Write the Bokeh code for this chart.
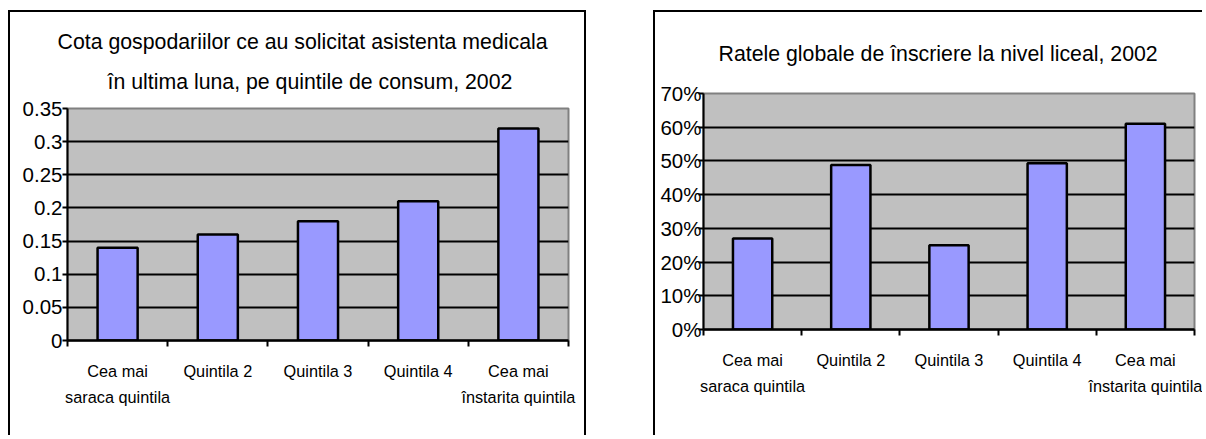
from bokeh.plotting import figure
from bokeh.models import ColumnDataSource, FixedTicker, Title, Range1d, LinearAxis
from bokeh.layouts import row, column
from bokeh.embed import file_html
from bokeh.resources import INLINE

# ---- data ----
categories = ["Cea mai\nsaraca quintila", "Quintila 2", "Quintila 3", "Quintila 4",
              "Cea mai\nînstarita quintila"]

health_values = [0.14, 0.16, 0.18, 0.21, 0.32]
health_ticks = [0, 0.05, 0.1, 0.15, 0.2, 0.25, 0.3, 0.35]
health_tick_labels = ["0", "0.05", "0.1", "0.15", "0.2", "0.25", "0.3", "0.35"]
health_title = ["Cota gospodariilor ce au solicitat asistenta medicala",
                "în ultima luna, pe quintile de consum, 2002"]

enrol_values = [0.27, 0.488, 0.25, 0.493, 0.61]
enrol_ticks = [0, 0.1, 0.2, 0.3, 0.4, 0.5, 0.6, 0.7]
enrol_tick_labels = ["0%", "10%", "20%", "30%", "40%", "50%", "60%", "70%"]
enrol_title = ["Ratele globale de înscriere la nivel liceal, 2002"]

FONT = "Liberation Sans"


def make_chart(values, ticks, tick_labels, titles, width, height, borders,
               title_layout, ylabel_standoff, box_css):
    n = len(categories)
    ymax = ticks[-1]
    centers = [i + 0.5 for i in range(n)]
    p = figure(width=width, height=height, output_backend="svg", toolbar_location=None,
               x_range=Range1d(0, n), y_range=Range1d(0, ymax),
               min_border_left=borders[0], min_border_right=borders[1],
               min_border_top=borders[2], min_border_bottom=borders[3],
               background_fill_color="#C0C0C0", border_fill_color="white",
               outline_line_color="#808080", outline_line_width=2)
    p.styles = box_css

    src = ColumnDataSource(dict(x=centers, top=values))
    p.vbar(x="x", top="top", width=0.4, source=src, fill_color="#9999FF",
           line_color="black", line_width=2.5)

    # grid
    p.xgrid.visible = False
    p.ygrid.ticker = FixedTicker(ticks=ticks[1:-1])
    p.ygrid.grid_line_color = "black"
    p.ygrid.grid_line_width = 2
    p.ygrid.level = "underlay"

    # y axis
    ya = p.yaxis[0]
    ya.ticker = FixedTicker(ticks=ticks)
    ya.major_label_overrides = {t: l for t, l in zip(ticks, tick_labels)}
    ya.axis_line_color = "black"
    ya.axis_line_width = 2
    ya.major_tick_line_color = "black"
    ya.major_tick_line_width = 2
    ya.major_tick_out = 5
    ya.major_tick_in = 0
    ya.minor_tick_line_color = None
    ya.major_label_standoff = ylabel_standoff
    ya.major_label_text_font = FONT
    ya.major_label_text_font_size = "20.5px"
    ya.major_label_text_color = "black"

    # x axis (ticks between categories)
    xa = p.xaxis[0]
    xa.ticker = FixedTicker(ticks=list(range(n + 1)))
    xa.major_label_overrides = {i: "" for i in range(n + 1)}
    xa.major_label_text_font_size = "0px"
    xa.major_label_standoff = 0
    xa.axis_line_color = "black"
    xa.axis_line_width = 2.5
    xa.major_tick_line_color = "black"
    xa.major_tick_line_width = 2
    xa.major_tick_out = 6
    xa.major_tick_in = 0
    xa.minor_tick_line_color = None

    # category labels (second axis, ticks at category centres)
    ca = LinearAxis(ticker=FixedTicker(ticks=centers),
                    major_label_overrides={c: s for c, s in zip(centers, categories)})
    ca.axis_line_color = None
    ca.major_tick_line_color = None
    ca.minor_tick_line_color = None
    ca.major_tick_out = 0
    ca.major_tick_in = 0
    ca.major_label_standoff = 15
    ca.major_label_text_font = FONT
    ca.major_label_text_font_size = "16.3px"
    ca.major_label_text_color = "black"
    ca.major_label_text_line_height = 1.47
    p.add_layout(ca, "below")

    for t, (s, off, lh) in zip(reversed(titles), title_layout):
        p.add_layout(Title(text=t, align="left", text_font=FONT, text_font_size="21.3px",
                           text_font_style="normal", text_color="black",
                           text_line_height=lh, standoff=s, offset=off), "above")
    return p


p1 = make_chart(health_values, health_ticks, health_tick_labels, health_title,
                width=578, height=425, borders=(57, 20, 96, 97),
                title_layout=((29, 40, 0.7), (0, -10, 1.0)), ylabel_standoff=0,
                box_css={"border-left": "2px solid black", "border-top": "2px solid black",
                         "border-right": "2px solid black"})
p2 = make_chart(enrol_values, enrol_ticks, enrol_tick_labels, enrol_title,
                width=549, height=425, borders=(48, 10, 81, 108),
                title_layout=((55, 15, 1.0),), ylabel_standoff=-3,
                box_css={"border-left": "2px solid black", "border-top": "2px solid black"})
p1.margin = (10, 0, 0, 8)
p2.margin = (10, 0, 0, 67)

layout = row(column(p1), column(p2))
open("out.html", "w").write(file_html(layout, INLINE))
